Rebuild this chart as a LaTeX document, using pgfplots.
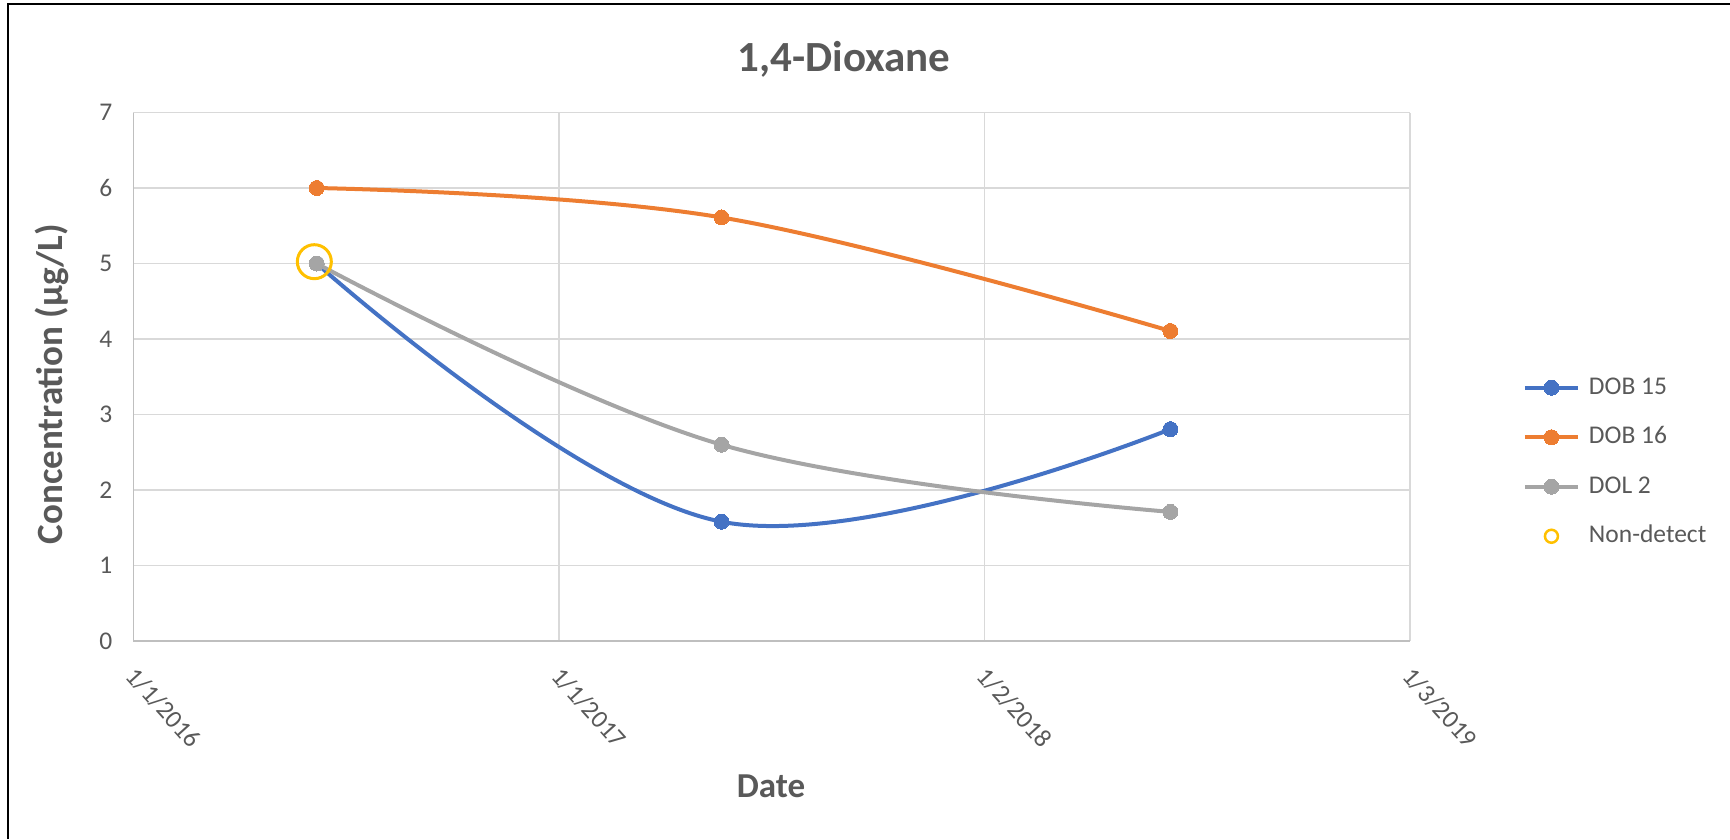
\documentclass[border=0pt]{standalone}
\usepackage{fontspec}
\setmainfont{Carlito}
\usepackage{pgfplots}
\pgfplotsset{compat=1.18}
\definecolor{cblue}{HTML}{4472C4}
\definecolor{corange}{HTML}{ED7D31}
\definecolor{cgray}{HTML}{A5A5A5}
\definecolor{cgold}{HTML}{FFC000}
\definecolor{textgray}{HTML}{595959}
\definecolor{gridgray}{HTML}{D9D9D9}
\definecolor{axisgray}{HTML}{BFBFBF}
\begin{document}
\begin{tikzpicture}
\path[use as bounding box] (-133.5pt,-198pt) rectangle (1596.5pt,641pt);
\draw[line width=2pt,black] (-125.5pt,-198pt) -- (-125.5pt,637pt) -- (1596.5pt,637pt);
\begin{axis}[
  at={(0pt,0pt)}, anchor=south west,
  scale only axis, width=1276.5pt, height=528.5pt,
  xmin=0, xmax=3, ymin=0, ymax=7,
  xtick={0,1,2,3},
  xticklabels={1/1/2016,1/1/2017,1/2/2018,1/3/2019},
  ytick={0,1,2,3,4,5,6,7},
  axis x line*=bottom, axis y line*=left,
  axis line style={axisgray, line width=1.6pt, -},
  grid=major,
  major grid style={gridgray, line width=1.6pt},
  major tick length=0pt,
  /pgf/number format/assume math mode=true,
  tick label style={font=\fontsize{25.5}{30}\selectfont, text=textgray},
  yticklabel style={anchor=east, inner sep=0pt, xshift=-21pt},
  xticklabel style={xshift=4.5pt, yshift=-24pt, rotate=-48, anchor=north west, inner sep=0pt},
  title={1,4-Dioxane},
  title style={at={(axis description cs:0.5566,1)}, anchor=base, yshift=35.5pt,
    font=\fontsize{43}{50}\selectfont\bfseries, text=textgray},
  xlabel={Date},
  xlabel style={at={(axis description cs:0.4994,0)}, anchor=base, yshift=-156pt,
    font=\fontsize{35}{42}\selectfont\bfseries, text=textgray},
  ylabel={Concentration (µg/L)},
  ylabel style={at={(axis description cs:-0.0638,0.486)}, anchor=center,
    font=\fontsize{37}{44}\selectfont\bfseries, text=textgray},
  legend style={at={(1.0885,0.3387)}, anchor=west, draw=none, fill=none,
    inner sep=0pt, outer sep=0pt, row sep=26.5pt, column sep=9pt,
    font=\fontsize{25.5}{30}\selectfont, text=textgray,
    nodes={inner sep=0pt, text height=18pt, text depth=5pt}},
  legend cell align=left,
  every axis plot/.append style={line width=4pt},
]
\pgfplotsset{
  linelegend/.style={legend image code/.code={
    \draw[mark repeat=2,mark phase=2] plot coordinates {(0pt,0pt) (26.5pt,0pt) (53pt,0pt)};}}
}
\addplot[cblue, smooth, tension=0.62, mark=*, mark size=7.5pt, mark options={fill=cblue, draw=cblue, line width=0pt}, linelegend]
  coordinates {(0.4305,5.00) (1.382,1.58) (2.437,2.806)};
\addlegendentry{DOB 15}
\addplot[corange, smooth, tension=0.62, mark=*, mark size=7.5pt, mark options={fill=corange, draw=corange, line width=0pt}, linelegend]
  coordinates {(0.4305,6.00) (1.382,5.61) (2.437,4.106)};
\addlegendentry{DOB 16}
\addplot[cgray, smooth, tension=0.62, mark=*, mark size=7.5pt, mark options={fill=cgray, draw=cgray, line width=0pt}, linelegend]
  coordinates {(0.4305,5.00) (1.382,2.60) (2.437,1.71)};
\addlegendentry{DOL 2}
\addplot[only marks, mark=o, mark size=17pt, mark options={draw=cgold, line width=3pt},
  legend image code/.code={\draw[cgold, line width=2.5pt] (26.5pt,0pt) circle (6.5pt);}]
  coordinates {(0.425,5.024)};
\addlegendentry{Non-detect}
\end{axis}
\end{tikzpicture}
\end{document}
